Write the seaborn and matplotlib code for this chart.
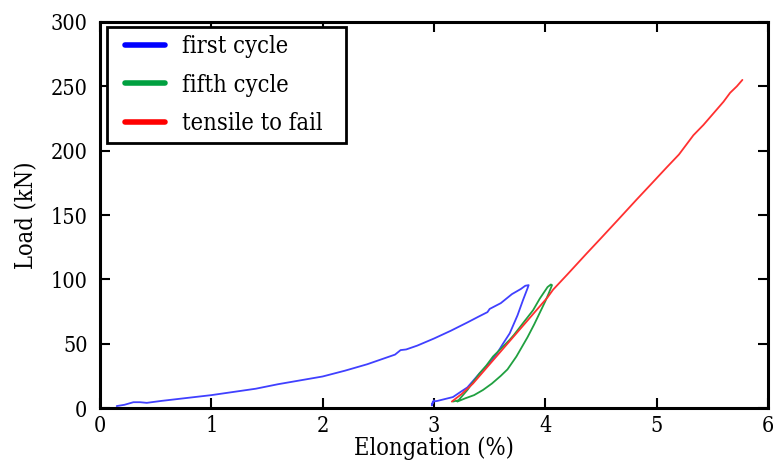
import matplotlib
matplotlib.use("Agg")
import matplotlib.pyplot as plt
import seaborn as sns
import pandas as pd
from matplotlib.lines import Line2D
from matplotlib.patches import Rectangle

# ---- data ----
first_x = [0.15, 0.22, 0.30, 0.36, 0.42, 0.55, 0.70, 0.85, 1.00, 1.20, 1.40, 1.60, 1.80, 2.00,
           2.20, 2.40, 2.55, 2.65, 2.70, 2.75, 2.85, 3.00, 3.15, 3.30, 3.40, 3.48, 3.50, 3.60,
           3.70, 3.78, 3.82, 3.85,
           3.84, 3.80, 3.75, 3.68, 3.62, 3.57, 3.50, 3.41, 3.35, 3.30, 3.23, 3.17, 3.10, 3.03,
           2.99, 2.98, 3.00]
first_y = [1.5, 2.5, 4.5, 4.5, 4.0, 5.5, 7.0, 8.5, 10.0, 12.5, 15.0, 18.5, 21.5, 24.5,
           29.0, 34.0, 38.5, 41.5, 45.0, 45.5, 48.5, 54.0, 60.0, 66.5, 71.0, 74.5, 77.0, 81.5,
           88.5, 92.5, 95.0, 95.5,
           93.0, 84.0, 72.0, 58.0, 50.0, 43.0, 35.0, 27.0, 21.0, 16.0, 12.0, 8.5, 7.0, 5.5,
           5.0, 2.0, 6.0]

fifth_x = [3.21, 3.28, 3.36, 3.44, 3.52, 3.60, 3.66, 3.74, 3.84, 3.90, 3.95, 4.00, 4.03, 4.06,
           4.05, 4.02, 3.95, 3.89, 3.80, 3.72, 3.68, 3.60, 3.53, 3.47, 3.41, 3.35, 3.30, 3.25,
           3.22, 3.17]
fifth_y = [5.0, 7.5, 10.0, 14.0, 19.0, 25.0, 30.0, 40.0, 55.0, 65.0, 74.0, 83.0, 89.0, 95.5,
           96.0, 94.0, 85.0, 76.0, 66.0, 57.0, 53.0, 46.0, 40.0, 33.0, 27.0, 20.0, 14.0, 9.0,
           6.0, 5.0]

tensile_x = [3.16, 3.25, 3.35, 3.47, 3.59, 3.75, 3.90, 4.02, 4.07, 4.20, 4.37, 4.50, 4.65,
             4.82, 4.95, 5.09, 5.20, 5.33, 5.42, 5.51, 5.60, 5.66, 5.72, 5.77]
tensile_y = [5.0, 11.0, 19.0, 31.0, 43.0, 59.0, 74.0, 86.0, 92.0, 104.0, 120.0, 132.0, 146.0,
             162.0, 174.0, 187.0, 197.0, 212.0, 220.0, 229.0, 238.0, 245.0, 250.0, 255.0]

series_names = ["first cycle", "fifth cycle", "tensile to fail"]
legend_colors = ["#0000ff", "#00a040", "#ff0000"]
line_colors = ["#4040ff", "#20a040", "#ff3030"]

df = pd.concat([
    pd.DataFrame({"x": first_x, "y": first_y, "s": series_names[0]}),
    pd.DataFrame({"x": fifth_x, "y": fifth_y, "s": series_names[1]}),
    pd.DataFrame({"x": tensile_x, "y": tensile_y, "s": series_names[2]}),
], ignore_index=True)

sns.set_style("ticks")
plt.rcParams["font.family"] = ["DejaVu Serif"]
plt.rcParams["font.stretch"] = "condensed"
for k in ["text.color", "axes.labelcolor", "xtick.color", "ytick.color", "axes.edgecolor"]:
    plt.rcParams[k] = "black"

W, H = 773, 465
fig = plt.figure(figsize=(W / 100, H / 100), dpi=100)
ax = fig.add_axes([100 / W, 1 - 408 / H, 668 / W, 386 / H])

for name, col in zip(series_names, line_colors):
    sub = df[df["s"] == name]
    sns.lineplot(data=sub, x="x", y="y", sort=False, estimator=None, ax=ax,
                 color=col, linewidth=1.3, legend=False)

ax.set_xlim(0, 6)
ax.set_ylim(0, 300)
ax.set_xticks(range(0, 7))
ax.set_yticks(range(0, 301, 50))
ax.set_xlabel("Elongation (%)", fontsize=17, labelpad=0)
ax.set_ylabel("Load (kN)", fontsize=17, labelpad=9)
ax.tick_params(axis="both", direction="in", length=7, width=1.5, labelsize=15.5,
               top=True, right=True, pad=5)
ax.tick_params(axis="y", pad=9)
for sp in ax.spines.values():
    sp.set_visible(True)
    sp.set_linewidth(2.2)
    sp.set_color("black")

handles = [Line2D([0], [0], color=c, lw=4) for c in legend_colors]
leg = ax.legend(handles, series_names, loc="upper left", fontsize=17, frameon=False,
                handlelength=1.7, handletextpad=0.72, borderpad=0.33, labelspacing=0.67,
                borderaxespad=0, bbox_to_anchor=(17 / 668, 1 - 5 / 386))

# legend frame: wider horizontal padding than vertical
fig.canvas.draw()
bb = leg.get_window_extent()
x0 = bb.x0 - 10
x1 = bb.x1 + 16
rect = Rectangle((x0 / W, bb.y0 / H), (x1 - x0) / W, bb.height / H,
                 transform=fig.transFigure, fill=True, facecolor="white",
                 edgecolor="black", linewidth=2.0, zorder=4)
leg.remove()
fig.add_artist(rect)
fig.add_artist(leg)
leg.set_zorder(6)

fig.savefig("out.png", dpi=100)
